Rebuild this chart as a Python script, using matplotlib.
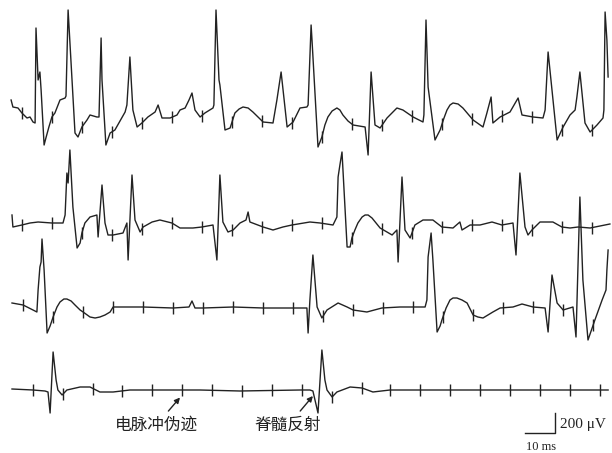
import numpy as np
import matplotlib
matplotlib.use("Agg")
import matplotlib.pyplot as plt

plt.rcParams['font.family'] = ['Noto Sans CJK SC', 'DejaVu Sans']

# 四条肌电记录: 时间 (ms) 与幅值 (µV)
t1 = [3.7, 4.3, 6.0, 7.3, 9.0, 10.0, 11.0, 11.7, 12.0, 12.7, 13.3, 13.7, 14.7, 15.3, 16.3, 17.3,
      18.3, 20.0, 21.7, 22.0, 22.7, 25.0, 26.0, 27.3, 29.0, 30.0, 32.3, 33.0, 33.7, 34.0, 35.3,
      36.7, 38.3, 41.7, 42.3, 43.3, 44.3, 45.7, 47.3, 49.3, 51.7, 52.7, 54.0, 56.7, 59.0, 60.0,
      61.7, 63.0, 64.0, 65.0, 66.7, 68.3, 71.0, 71.3, 72.0, 73.0, 73.3, 75.0, 76.7, 78.3, 79.7,
      81.0, 82.7, 84.3, 86.0, 87.7, 91.0, 92.3, 93.7, 95.7, 97.7, 100.0, 102.3, 102.7, 103.7,
      104.0, 106.0, 107.3, 108.3, 109.3, 110.7, 112.3, 113.3, 114.3, 116.0, 117.7, 121.7,
      122.7, 123.7, 125.0, 126.7, 129.0, 132.3, 134.3, 137.7, 141.0, 141.3, 142.0, 142.7,
      145.0, 146.7, 148.0, 149.0, 150.0, 151.0, 152.7, 154.3, 156.0, 157.7, 161.0, 162.3,
      163.7, 164.3, 166.7, 170.0, 172.7, 174.0, 177.7, 181.0, 181.7, 182.7, 185.7, 187.7,
      190.0, 191.7, 192.3, 193.3, 195.0, 196.7, 199.0, 201.0, 201.3, 201.7, 202.3, 202.7]
v1 = [150, 80, 70, 20, -30, -20, -70, -80, 870, 350, 430, 250, -300, -230, -120, -20,
      20, 150, 170, 190, 1050, -180, -220, -120, -50, 0, -20, -20, 770, 350, -300,
      -180, -150, 30, 100, 580, 50, -120, -80, -20, 30, 100, -30, -30, 0, 50,
      70, 150, 220, 50, -20, 20, 70, 100, 1050, 350, 300, -150, -130, 20, 60,
      80, 70, 30, -20, -70, -80, 150, 430, -120, -70, 70, 80, 100, 900,
      750, -320, -220, -100, -20, 40, 70, 50, 0, -60, -100, -120,
      -400, 430, -100, -130, -30, 70, 50, -20, -70, 0, 950, 280,
      -250, -150, -30, 50, 100, 120, 110, 70, 10, -50, -120, 20,
      180, -80, -20, 30, 170, 0, -20, -30, 50, 630, -250, -120,
      0, 50, 180, 430, -80, -170, -100, -30, 50, 1030, 750, 380]

t2 = [4.0, 4.3, 7.3, 10.0, 12.7, 17.3, 21.0, 21.7, 22.3, 22.7, 23.3, 24.3, 25.7, 26.7, 27.3,
      28.3, 30.0, 32.3, 32.7, 34.0, 35.0, 36.0, 37.7, 41.0, 42.3, 42.7, 44.0, 45.0, 46.7,
      47.7, 50.7, 53.3, 57.3, 60.0, 64.3, 67.3, 71.0, 72.3, 73.3, 74.3, 76.0, 77.7, 80.0,
      82.0, 82.7, 83.3, 87.7, 91.0, 94.3, 97.3, 103.3, 106.7, 111.0, 112.3, 112.7, 113.3,
      114.0, 115.7, 116.7, 117.3, 118.3, 119.3, 120.7, 121.7, 122.7, 124.0, 126.7, 130.7,
      132.3, 132.7, 134.0, 135.0, 136.7, 138.3, 141.0, 144.3, 147.3, 151.0, 153.3, 154.0,
      156.7, 160.0, 164.0, 167.3, 171.0, 172.0, 173.3, 175.0, 176.0, 177.3, 180.0, 184.3,
      187.3, 190.0, 192.7, 196.7, 203.3]
v2 = [100, -20, 0, 20, 30, 20, 20, 100, 520, 420, 750, 180, -230, -180, -80,
      20, 80, 100, -120, 400, 20, -100, -100, -80, 20, -350, 500, 50, -70,
      -20, 30, 50, 20, -30, -30, -20, 0, -350, 500, 30, -70, -50, 20,
      50, 130, 30, -20, -50, -20, 0, 30, 20, 0, 80, 480, 600,
      730, -220, -220, -130, -50, 20, 80, 100, 100, 70, -30, -100,
      -50, -370, 480, -50, -130, 0, 50, 50, -20, -30, 30, -50,
      0, 0, 30, 0, 20, -300, 520, -20, -100, -50, 30, 30,
      -20, -30, -20, -30, 10]

t3 = [4.0, 7.7, 11.0, 12.3, 12.7, 13.3, 13.7, 14.0, 14.7, 15.7, 16.7, 17.7, 19.0, 20.0, 21.3,
      22.3, 23.7, 25.0, 26.7, 27.7, 30.0, 31.7, 33.3, 35.0, 36.7, 37.7, 47.7, 57.7, 63.0,
      64.0, 65.0, 67.7, 77.7, 87.7, 97.7, 102.3, 102.7, 103.3, 104.3, 105.7, 107.3, 109.0,
      112.7, 115.7, 117.7, 122.3, 127.3, 133.3, 137.3, 141.7, 142.3, 142.7, 143.7, 144.3,
      145.7, 146.7, 147.3, 148.7, 150.0, 151.0, 152.3, 154.0, 155.7, 157.7, 159.3, 161.0,
      164.3, 166.7, 171.0, 174.0, 177.7, 181.7, 182.7, 184.0, 185.7, 187.7, 191.0, 192.0,
      193.3, 194.3, 196.0, 198.3, 200.7, 202.0, 202.3, 202.7]
v3 = [40, 20, -30, -50, 170, 400, 450, 680, 370, -260, -190, -100, 0, 50, 80,
      80, 60, 20, -30, -50, -100, -110, -100, -80, -50, 0, 0, -10, 0,
      60, -10, -10, 0, -10, -10, -10, -260, 70, 520, 0, -110, -30,
      40, 0, -30, -50, -10, 0, 0, 0, 70, 500, 740, 470,
      -250, -190, -130, -10, 70, 90, 90, 70, 40, -80, -100, -110,
      -50, -10, 0, 30, 0, -10, -250, 320, 40, -30, 0, -300,
      1100, 270, -330, -130, 70, 170, 370, 570]

t4 = [4.0, 11.0, 15.0, 16.0, 16.7, 17.7, 18.7, 19.3, 20.7, 22.3, 26.7, 30.0, 33.3, 37.7, 43.3,
      53.3, 66.7, 80.0, 100.0, 103.3, 104.3, 106.0, 107.3, 108.3, 109.0, 110.7, 112.3, 116.7,
      120.7, 124.3, 130.0, 150.0, 173.3, 202.7]
v4 = [10, 0, -10, -20, -230, 380, 100, 0, -50, 0, 30, 30, -20, -20, 0,
      0, 0, -10, 0, 0, -10, -230, 400, 100, 0, -70, -20, 30,
      20, -20, 0, 0, 0, 0]

# 电脉冲伪迹时刻 (ms)
stim1 = [7.3, 17.3, 27.3, 37.3, 47.3, 57.3, 67.3, 77.3, 87.3, 97.3, 107.3, 117.3, 127.3,
         137.3, 147.3, 157.3, 167.3, 177.3, 187.3, 197.3]
stim2 = stim1
stim3 = [7.7, 17.7, 27.7, 37.7, 47.7, 57.7, 67.7, 77.7, 87.7, 97.7, 107.7, 117.7, 127.7,
         137.7, 147.7, 157.7, 167.7, 177.7, 187.7, 197.7]
stim4 = [11.0, 21.0, 31.0, 40.7, 50.7, 60.7, 70.7, 80.7, 90.7, 100.7, 110.7, 120.7, 130.0,
         140.0, 150.0, 160.0, 170.0, 180.0, 190.0, 200.0]

traces = [(t1, v1, stim1, -1150), (t2, v2, stim2, -2250),
          (t3, v3, stim3, -3070), (t4, v4, stim4, -3900)]

fig = plt.figure(figsize=(6.12, 4.53), dpi=100)
ax = fig.add_axes([0, 0, 1, 1])
ax.set_xlim(0, 204)
ax.set_ylim(-4530, 0)
ax.axis('off')

line_color = '#222222'
for t, v, stim, off in traces:
    t = np.array(t)
    v = np.array(v) + off
    ax.plot(t, v, color=line_color, lw=1.0)
    ys = np.interp(stim, t, v)
    ax.vlines(stim, ys - 60, ys + 60, color=line_color, lw=1.0)

# 标注
ax.annotate('电脉冲伪迹', xy=(60.0, -3975), xytext=(52, -4255),
            ha='center', va='center', fontsize=12, color='#222222',
            arrowprops=dict(arrowstyle='-|>', color='#222222', lw=1.0,
                            mutation_scale=8, shrinkA=3, shrinkB=0))
ax.annotate('脊髓反射', xy=(104.3, -3960), xytext=(96, -4255),
            ha='center', va='center', fontsize=12, color='#222222',
            arrowprops=dict(arrowstyle='-|>', color='#222222', lw=1.0,
                            mutation_scale=8, shrinkA=3, shrinkB=0))

# 标尺: 10 ms, 200 µV
ax.plot([175, 185, 185], [-4330, -4330, -4130], color='#222222', lw=1.0)
ax.text(186.7, -4245, '200 μV', ha='left', va='center', fontsize=11,
        family=['Liberation Serif', 'DejaVu Serif'], color='#222222')
ax.text(175.5, -4470, '10 ms', ha='left', va='center', fontsize=9,
        family=['Liberation Serif', 'DejaVu Serif'], color='#222222')

fig.savefig('out.png', dpi=100)
